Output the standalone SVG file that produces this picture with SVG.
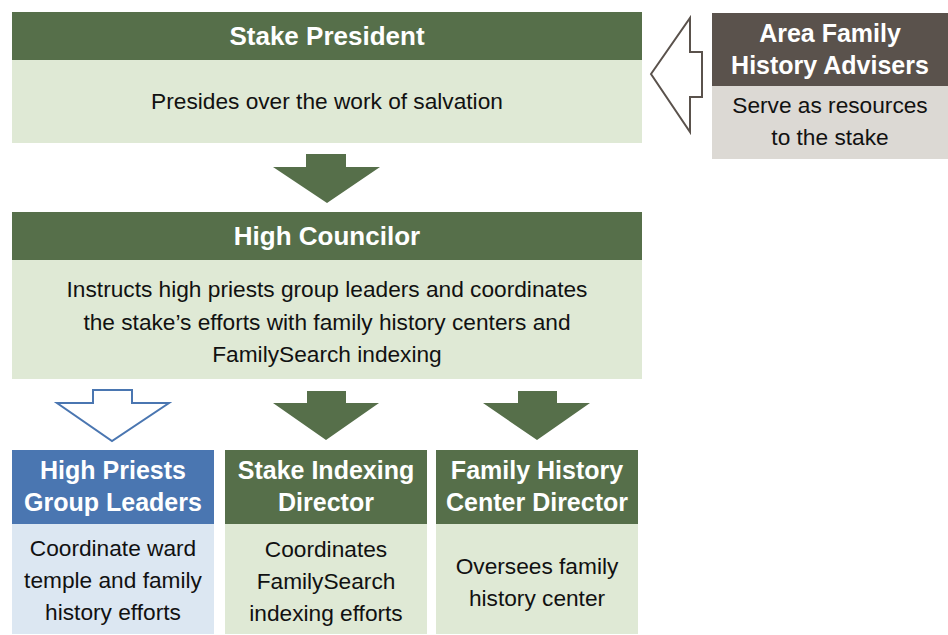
<svg xmlns="http://www.w3.org/2000/svg" width="948" height="635" viewBox="0 0 948 635">
<style>
.hd{fill:#566f4a}
.bd{fill:#dfe9d5}
.ht{font-family:"Liberation Sans",Arial,sans-serif;font-weight:bold;font-size:26px;fill:#ffffff;text-anchor:middle}
.hs{font-size:25px}
.bt{font-family:"Liberation Sans",Arial,sans-serif;font-size:22.7px;fill:#111111;text-anchor:middle}
.ga{fill:#566f4a}
</style>
<rect width="948" height="635" fill="#ffffff"/>
<g id="stake-president">
<rect class="hd" x="12" y="12" width="630" height="48"/>
<rect class="bd" x="12" y="60" width="630" height="83"/>
<text class="ht" x="327" y="45">Stake President</text>
<text class="bt" x="327" y="109">Presides over the work of salvation</text>
</g>
<g id="area-advisers">
<rect fill="#5a524c" x="712" y="13" width="236" height="73"/>
<rect fill="#dcd9d4" x="712" y="86" width="236" height="73"/>
<text class="ht hs" x="830" y="42">Area Family</text>
<text class="ht hs" x="830" y="74">History Advisers</text>
<text class="bt" x="830" y="113">Serve as resources</text>
<text class="bt" x="830" y="145">to the stake</text>
</g>
<g id="high-councilor">
<rect class="hd" x="12" y="212" width="630" height="48"/>
<rect class="bd" x="12" y="260" width="630" height="119"/>
<text class="ht" x="327" y="245">High Councilor</text>
<text class="bt" x="327" y="297">Instructs high priests group leaders and coordinates</text>
<text class="bt" x="327" y="330">the stake’s efforts with family history centers and</text>
<text class="bt" x="327" y="362">FamilySearch indexing</text>
</g>
<g id="high-priests">
<rect fill="#4a76b1" x="12" y="450" width="202" height="74"/>
<rect fill="#dce7f2" x="12" y="524" width="202" height="110"/>
<text class="ht hs" x="113" y="479">High Priests</text>
<text class="ht hs" x="113" y="511">Group Leaders</text>
<text class="bt" x="113" y="556">Coordinate ward</text>
<text class="bt" x="113" y="588">temple and family</text>
<text class="bt" x="113" y="620">history efforts</text>
</g>
<g id="stake-indexing">
<rect class="hd" x="225" y="450" width="202" height="74"/>
<rect class="bd" x="225" y="524" width="202" height="110"/>
<text class="ht hs" x="326" y="479">Stake Indexing</text>
<text class="ht hs" x="326" y="511">Director</text>
<text class="bt" x="326" y="557">Coordinates</text>
<text class="bt" x="326" y="589">FamilySearch</text>
<text class="bt" x="326" y="621">indexing efforts</text>
</g>
<g id="fhc-director">
<rect class="hd" x="436" y="450" width="202" height="74"/>
<rect class="bd" x="436" y="524" width="202" height="110"/>
<text class="ht hs" x="537" y="479">Family History</text>
<text class="ht hs" x="537" y="511">Center Director</text>
<text class="bt" x="537" y="574">Oversees family</text>
<text class="bt" x="537" y="606">history center</text>
</g>
<g id="connectors">
<polygon class="ga" points="306,154 346,154 346,167 380,167 327,203 273,167 306,167"/>
<polygon fill="#ffffff" stroke="#5a524c" stroke-width="2" points="651,74 690,18 690,52 702,52 702,97 690,97 690,132"/>
<polygon fill="#ffffff" stroke="#4a76b1" stroke-width="2" points="93,390 132,390 132,403 169,403 112,441 57,403 93,403"/>
<polygon class="ga" points="307,391 346,391 346,403 379,403 326,440 273,403 307,403"/>
<polygon class="ga" points="518,391 557,391 557,403 590,403 537,440 483,403 518,403"/>
</g>
</svg>
